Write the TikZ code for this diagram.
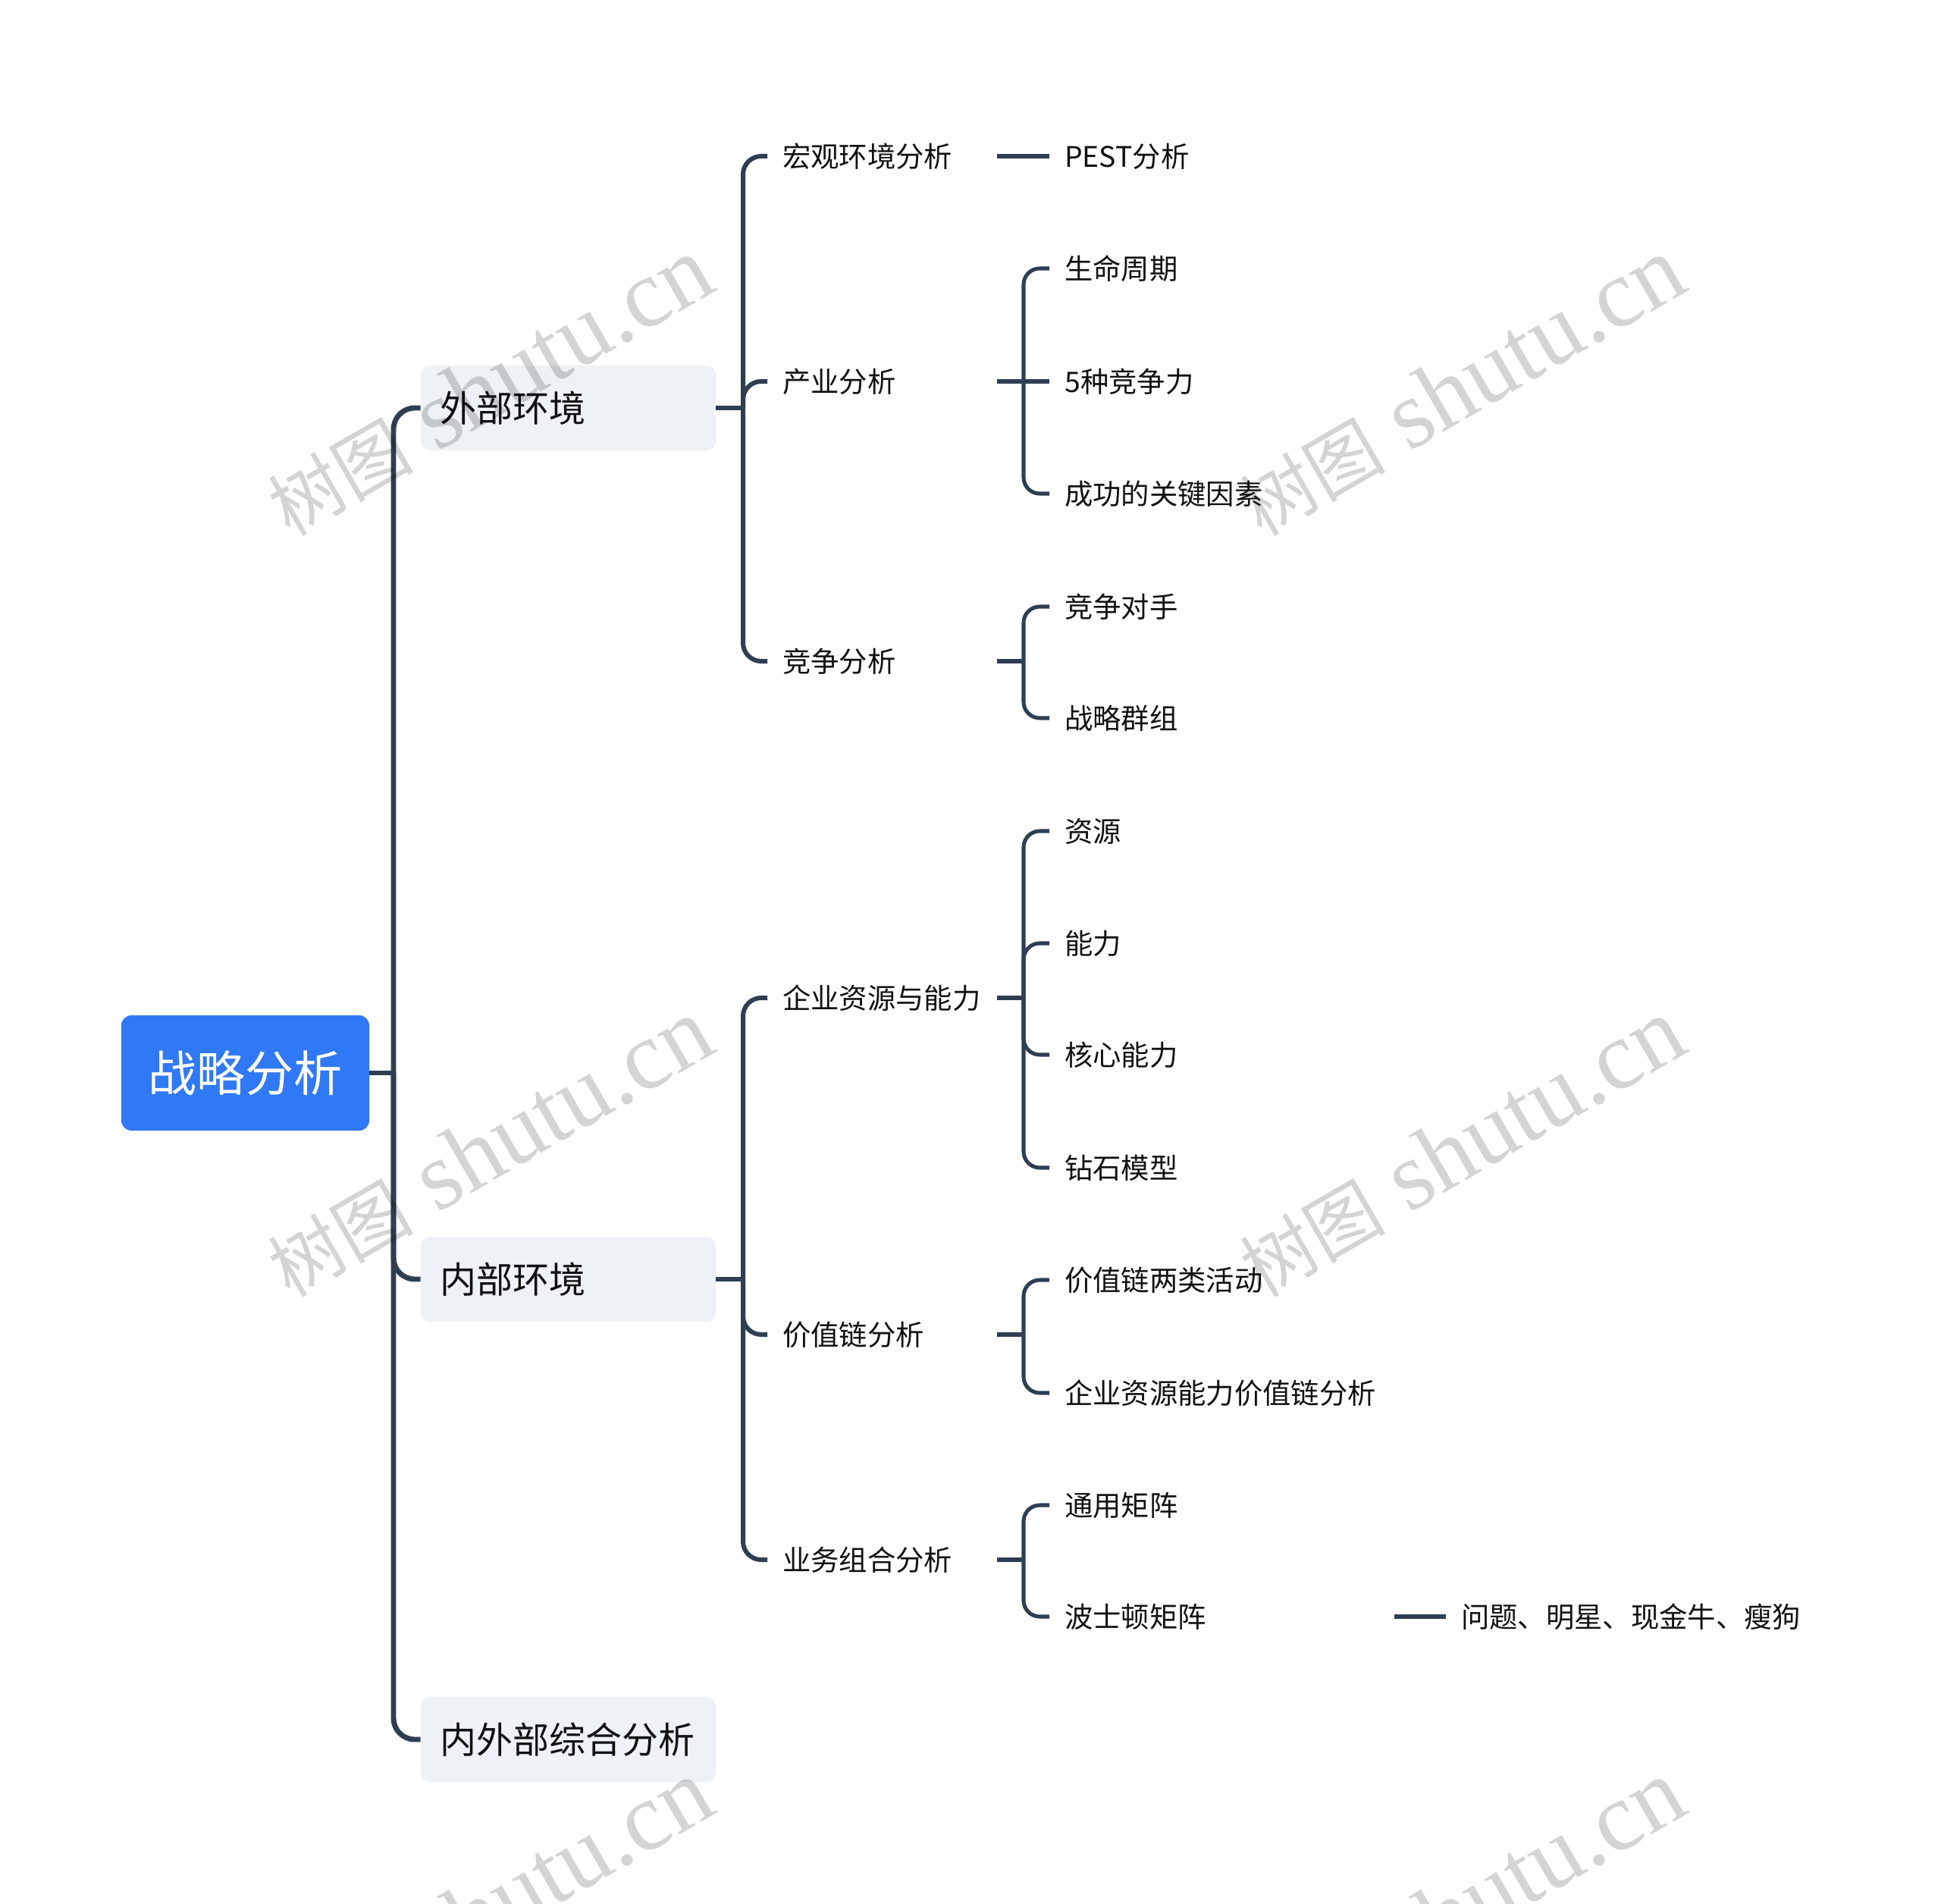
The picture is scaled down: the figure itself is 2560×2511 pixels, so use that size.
\documentclass[tikz,border=0pt]{standalone}
\usepackage{fontspec}
\newfontfamily\cjk{Noto Sans CJK SC}
\newfontfamily\wmlatin{Liberation Serif}
\definecolor{linec}{HTML}{2F3E52}
\definecolor{rootc}{HTML}{3079F6}
\definecolor{boxc}{HTML}{EEF1F5}
\definecolor{txtc}{HTML}{111111}
\begin{document}
\begin{tikzpicture}[x=0.75pt,y=-0.75pt,
  rootnode/.style={fill=rootc, rounded corners=10pt, minimum width=245.25pt, minimum height=114pt, inner sep=0pt, text=white, font=\cjk\fontsize{48}{50}\selectfont, text height=42.2pt, text depth=5.8pt},
  l1node/.style={fill=boxc, rounded corners=9pt, minimum height=84pt, inner xsep=18.75pt, inner ysep=0pt, text width=254.25pt, align=left, text=txtc, font=\cjk\fontsize{36}{38}\selectfont, text height=31.7pt, text depth=4.3pt},
  l2node/.style={anchor=west, inner sep=0pt, text width=211.5pt, align=left, text=txtc, font=\cjk\fontsize{28}{30}\selectfont, text height=24.6pt, text depth=3.4pt},
  l3node/.style={l2node, text width=325.5pt},
  l4node/.style={anchor=west, inner sep=0pt, text=txtc, font=\cjk\fontsize{28}{30}\selectfont, text height=24.6pt, text depth=3.4pt},
  trunk/.style={draw=linec, line width=5.2pt, rounded corners=21pt},
  br2/.style={draw=linec, line width=4.5pt, rounded corners=18pt},
  br3/.style={draw=linec, line width=3.8pt, rounded corners=16pt},
  wm/.style={rotate=30, text=black, text opacity=0.17, inner sep=0pt, font=\wmlatin\fontsize{96}{96}\selectfont}
]
\useasboundingbox (0,0) rectangle (2560,2511);
\clip (0,0) rectangle (2560,2511);

% root and level 1
\node[rootnode] (root) at (323.5,1415) {战略分析};
\node[l1node] (wb) at (749.5,538) {外部环境};
\node[l1node] (nb) at (749.5,1687) {内部环境};
\node[l1node] (zh) at (749.5,2294) {内外部综合分析};

% level 2
\node[l2node] (hg) at (1032,206) {宏观环境分析};
\node[l2node] (cy) at (1032,503) {产业分析};
\node[l2node] (jz) at (1032,872) {竞争分析};
\node[l2node] (qy) at (1032,1316) {企业资源与能力};
\node[l2node] (jzl) at (1032,1760) {价值链分析};
\node[l2node] (yw) at (1032,2057) {业务组合分析};

% level 3
\node[l3node] (pest) at (1404,206) {PEST分析};
\node[l3node] (smzq) at (1404,354) {生命周期};
\node[l3node] (wzjz) at (1404,503) {5种竞争力};
\node[l3node] (cgys) at (1404,651) {成功的关键因素};
\node[l3node] (jzds) at (1404,800) {竞争对手};
\node[l3node] (zlqz) at (1404,947) {战略群组};
\node[l3node] (zy) at (1404,1096) {资源};
\node[l3node] (nl) at (1404,1244) {能力};
\node[l3node] (hxnl) at (1404,1391) {核心能力};
\node[l3node] (zsmx) at (1404,1540) {钻石模型};
\node[l3node] (jzlhl) at (1404,1688) {价值链两类活动};
\node[l3node] (qyzy) at (1404,1837) {企业资源能力价值链分析};
\node[l3node] (tyjz) at (1404,1985) {通用矩阵};
\node[l3node] (bsd) at (1404,2132) {波士顿矩阵};

% level 4
\node[l4node] (wt) at (1927,2132) {问题、明星、现金牛、瘦狗};

% junction coordinates
\coordinate (t0) at (519,1415);
\coordinate (b1) at (980,538);
\coordinate (b2) at (980,1687);
\coordinate (c1) at (1350,503);
\coordinate (c2) at (1350,872);
\coordinate (c3) at (1350,1316);
\coordinate (c4) at (1350,1760);
\coordinate (c5) at (1350,2057);

% trunk
\draw[trunk] (root.east) -- (t0);
\draw[trunk] (t0) |- (wb.west);
\draw[trunk] (t0) |- (nb.west);
\draw[trunk] (t0) |- (zh.west);

% level 2 brackets
\draw[br2] (wb.east) -- (b1);
\draw[br2] (b1) |- ([xshift=-15pt]hg.west);
\draw[br2] (b1) |- ([xshift=-15pt]cy.west);
\draw[br2] (b1) |- ([xshift=-15pt]jz.west);
\draw[br2] (nb.east) -- (b2);
\draw[br2] (b2) |- ([xshift=-15pt]qy.west);
\draw[br2] (b2) |- ([xshift=-15pt]jzl.west);
\draw[br2] (b2) |- ([xshift=-15pt]yw.west);

% level 3 brackets
\draw[br3] (hg.east) -- ([xshift=-15pt]pest.west);
\draw[br3] (cy.east) -- (c1);
\draw[br3] (c1) |- ([xshift=-15pt]smzq.west);
\draw[br3] (c1) -- ([xshift=-15pt]wzjz.west);
\draw[br3] (c1) |- ([xshift=-15pt]cgys.west);
\draw[br3] (jz.east) -- (c2);
\draw[br3] (c2) |- ([xshift=-15pt]jzds.west);
\draw[br3] (c2) |- ([xshift=-15pt]zlqz.west);
\draw[br3] (qy.east) -- (c3);
\draw[br3] (c3) |- ([xshift=-15pt]zy.west);
\draw[br3] (c3) |- ([xshift=-15pt]nl.west);
\draw[br3] (c3) |- ([xshift=-15pt]hxnl.west);
\draw[br3] (c3) |- ([xshift=-15pt]zsmx.west);
\draw[br3] (jzl.east) -- (c4);
\draw[br3] (c4) |- ([xshift=-15pt]jzlhl.west);
\draw[br3] (c4) |- ([xshift=-15pt]qyzy.west);
\draw[br3] (yw.east) -- (c5);
\draw[br3] (c5) |- ([xshift=-15pt]tyjz.west);
\draw[br3] (c5) |- ([xshift=-15pt]bsd.west);
\draw[br3] (bsd.east) -- ([xshift=-15pt]wt.west);

% watermarks
\foreach \wx/\wy [count=\i] in {645/510, 1927/510, 645/1514, 1927/1514, 645/2518, 1927/2518}
  \node[wm] (wm\i) at (\wx,\wy) {{\cjk\fontsize{72}{72}\selectfont 树图} shutu.cn};
\end{tikzpicture}
\end{document}
